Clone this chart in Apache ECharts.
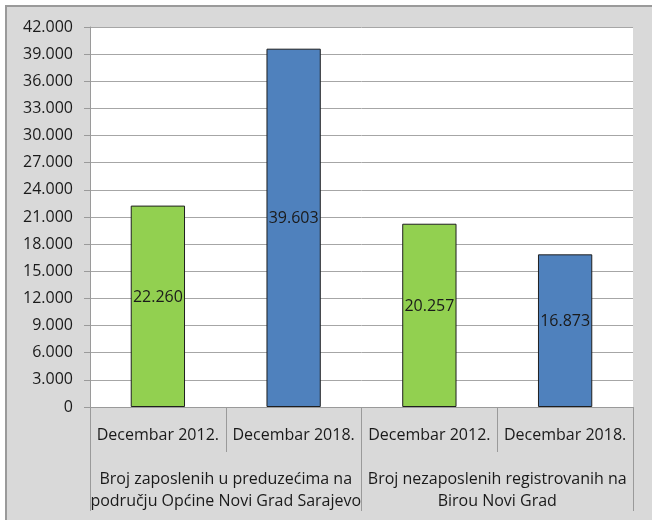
<!DOCTYPE html>
<html>
<head>
<meta charset="utf-8">
<script src="https://cdn.jsdelivr.net/npm/echarts@6/dist/echarts.min.js"></script>
<style>
  html, body { margin: 0; padding: 0; background: #fff; }
  #frame {
    position: absolute; left: 5px; top: 5px; width: 647px; height: 515px;
    background: #d9d9d9; border-left: 2px solid #9a9a9a; border-top: 2px solid #9a9a9a;
    box-sizing: border-box;
  }
  #chart { position: absolute; left: 0; top: 0; width: 652px; height: 520px; }
</style>
</head>
<body>
<div id="frame"></div>
<div id="chart"></div>
<script>
// kategorije i vrijednosti
const categories = ["Decembar 2012.", "Decembar 2018.", "Decembar 2012.", "Decembar 2018."];
const groups = [
  "Broj zaposlenih u preduzećima na\npodručju Općine Novi Grad Sarajevo",
  "Broj nezaposlenih registrovanih na\nBirou Novi Grad"
];
const values = [22260, 39603, 20257, 16873];
const barColors = ["#92d050", "#4f81bd", "#92d050", "#4f81bd"];

const font = '"Open Sans", sans-serif';

// 22260 -> "22.260"
const fmt = (v) => String(v).replace(/\B(?=(\d{3})+(?!\d))/g, ".");

const myChart = echarts.init(document.getElementById("chart"));

myChart.setOption({
  backgroundColor: "transparent",
  animation: false,
  grid: {
    left: 90,
    right: 19,
    top: 27,
    bottom: 113,
    show: true,
    backgroundColor: "#fff",
    borderWidth: 0,
  },
  xAxis: [
    {
      type: "category",
      data: categories,
      position: "bottom",
      axisLine: { show: true, lineStyle: { color: "#9a9a9a", width: 1 } },
      axisTick: { show: true, interval: 0, length: 45, lineStyle: { color: "#9a9a9a" } },
      axisLabel: {
        interval: 0,
        margin: 20,
        fontSize: 16,
        fontFamily: font,
        color: "#1a1a1a",
      },
    },
    {
      // druga razina kategorija (grupe)
      type: "category",
      data: groups,
      position: "bottom",
      axisLine: { show: false },
      axisTick: { show: true, interval: 0, length: 104, lineStyle: { color: "#9a9a9a" } },
      axisLabel: {
        interval: 0,
        margin: 61,
        fontSize: 16,
        lineHeight: 22,
        fontFamily: font,
        color: "#1a1a1a",
      },
    },
  ],
  yAxis: {
    type: "value",
    min: 0,
    max: 42000,
    interval: 3000,
    axisLine: { show: true, lineStyle: { color: "#9a9a9a" } },
    axisTick: { show: true, length: 6, lineStyle: { color: "#9a9a9a" } },
    splitLine: { show: true, lineStyle: { color: "#a6a6a6", width: 1 } },
    axisLabel: {
      margin: 17,
      fontSize: 16,
      fontFamily: font,
      color: "#1a1a1a",
      formatter: fmt,
    },
  },
  series: [
    {
      type: "bar",
      xAxisIndex: 0,
      barWidth: "40%",
      data: values.map((v, i) => ({
        value: v,
        itemStyle: { color: barColors[i] },
      })),
      itemStyle: { borderColor: "#1f1f1f", borderWidth: 1 },
      label: {
        show: true,
        position: "inside",
        offset: [0, -9],
        fontSize: 16,
        fontFamily: font,
        color: "#1a1a1a",
        formatter: (p) => fmt(p.value),
      },
    },
  ],
});

window.addEventListener("resize", () => {
  myChart && myChart.resize();
});
</script>
</body>
</html>
